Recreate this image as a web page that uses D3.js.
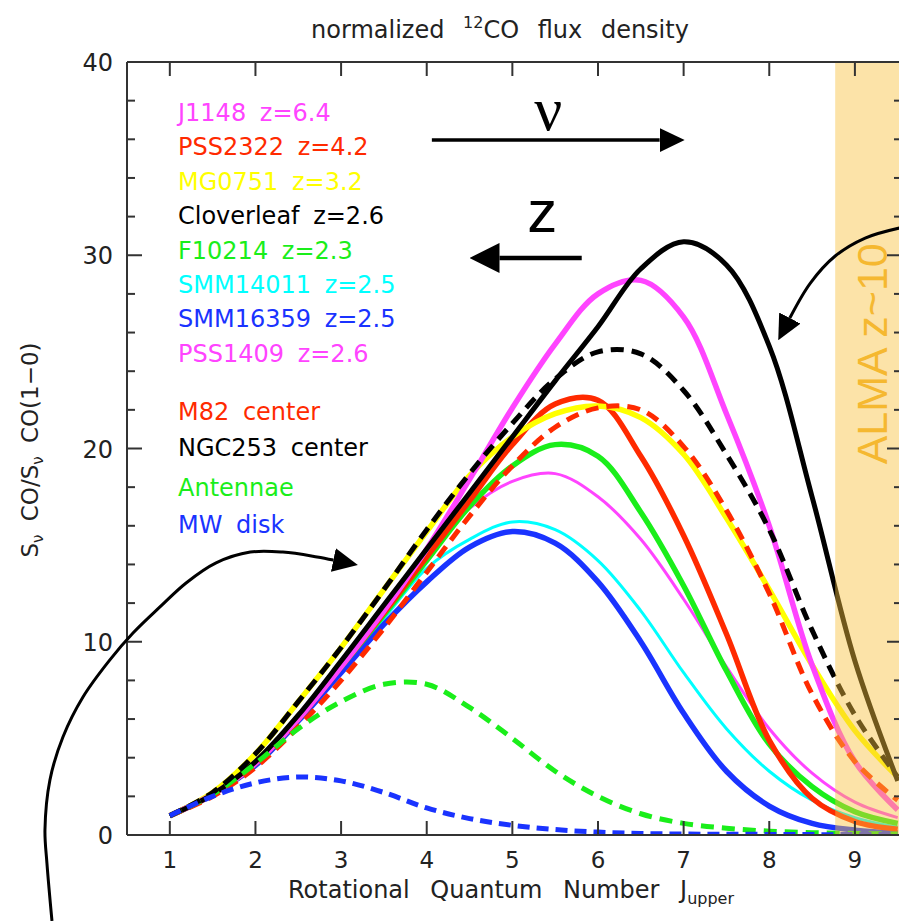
<!DOCTYPE html>
<html><head><meta charset="utf-8">
<script src="https://cdn.jsdelivr.net/npm/d3@7"></script>
<style>body{margin:0;background:#fff}svg{display:block}</style>
</head><body>
<script>
// ---------------- data ----------------
const jUpper = [1,1.5,2,2.5,3,3.5,4,4.5,5,5.5,6,6.5,7,7.5,8,8.5,9,9.5];
const cloverleaf = [1.0,2.1,3.8,6.2,9.0,11.9,14.8,17.7,20.6,23.5,26.3,29.3,30.7,29.5,25.3,17.5,9.0,2.8];
const j1148      = [1.0,2.1,3.7,6.0,8.7,11.6,14.8,18.4,22.1,25.4,28.0,28.7,26.8,21.8,16.0,8.8,3.8,1.3];
const ngc253     = [1.0,2.2,4.2,6.9,9.7,12.7,15.8,18.7,21.3,23.6,25.0,24.9,23.0,19.7,15.8,10.6,6.2,3.0];
const mg0751     = [1.0,2.2,4.2,6.9,9.7,12.7,15.7,18.6,20.6,21.8,22.2,21.6,19.7,16.4,12.7,8.8,5.4,3.0];
const pss2322    = [1.0,2.1,3.7,6.0,8.7,11.5,14.4,17.3,20.2,22.3,22.5,19.6,15.5,10.4,4.9,1.9,0.7,0.3];
const f10214     = [1.0,2.1,3.7,6.0,8.7,11.4,14.2,17.0,19.1,20.2,19.6,16.7,12.9,8.5,4.7,2.5,1.2,0.6];
const pss1409    = [1.0,2.1,3.7,6.0,8.6,11.4,14.5,16.9,18.3,18.7,17.5,15.3,12.2,8.7,5.5,3.2,1.7,0.9];
const smm14011   = [1.0,2.1,3.7,6.0,8.5,11.2,13.8,15.3,16.2,15.8,14.2,11.6,8.4,5.5,3.3,1.8,0.9,0.4];
const smm16359   = [1.0,2.1,3.6,5.9,8.4,10.9,13.1,14.9,15.7,15.1,13.1,10.0,6.3,3.3,1.5,0.6,0.25,0.1];
const m82        = [1.0,2.0,3.5,5.6,8.0,10.7,13.6,16.5,19.1,21.1,22.1,22.0,20.1,16.8,12.5,7.3,3.8,1.8];
const antennae   = [1.0,2.1,3.7,5.5,6.9,7.8,7.8,6.6,5.0,3.3,2.0,1.1,0.6,0.35,0.2,0.12,0.08,0.05];
const mwDisk     = [1.0,2.0,2.7,3.0,2.8,2.2,1.4,0.85,0.5,0.28,0.15,0.08,0.05,0.04,0.03,0.02,0.02,0.02];

const xTicks = [1,2,3,4,5,6,7,8,9];
const yTicks = [0,10,20,30,40];
const yMinorTicks = d3.range(0,41,2);

const legendLabels = ["J1148 z=6.4","PSS2322 z=4.2","MG0751 z=3.2","Cloverleaf z=2.6","F10214 z=2.3","SMM14011 z=2.5","SMM16359 z=2.5","PSS1409 z=2.6"];
const legendColors = ["#ff44ff","#ff2a00","#ffff00","#000000","#1aee1a","#00ffff","#1a33ff","#ff44ff"];
const localLabels = ["M82 center","NGC253 center","Antennae","MW disk"];
const localColors = ["#ff2a00","#000000","#1aee1a","#1a33ff"];

// annotation geometry in data units (J, S ratio)
const almaRange = [8.77, 9.6];
const nuArrow = [[4.06,35.96],[6.72,35.96]];
const zArrow  = [[5.81,29.86],[4.85,29.86]];
const topRightArrow = [[9.52,31.41],[9.12,30.89],[8.77,29.96],[8.48,28.56],[8.24,26.75]];
const leftArrow = [[-0.376,-4.45],[-0.435,-1.45],[-0.458,0.26],[-0.40,2.85],[-0.248,5.07],[-0.014,7.14],[0.30,9.06],[0.57,10.45],[0.885,11.80],[1.19,13.04],[1.54,14.08],[1.94,14.64],[2.32,14.64],[2.72,14.39],[2.91,14.23]];

// ---------------- layout ----------------
const W = 899, H = 921;
const svg = d3.select("body").append("svg").attr("width",W).attr("height",H);
const x = d3.scaleLinear().domain([0.5,9.55]).range([127,902]);
const y = d3.scaleLinear().domain([0,40]).range([835,62]);
const font = "'DejaVu Sans', sans-serif";

const defs = svg.append("defs");
function marker(id, len, half){
  defs.append("marker").attr("id",id).attr("markerUnits","userSpaceOnUse")
    .attr("viewBox",`0 ${-half} ${len} ${2*half}`).attr("refX",0).attr("refY",0)
    .attr("markerWidth",len).attr("markerHeight",2*half).attr("orient","auto")
    .append("path").attr("d",`M0,${-half}L${len},0L0,${half}Z`).attr("fill","#000");
}
marker("headA",25,12);
marker("headZ",30,15);
defs.append("clipPath").attr("id","plotclip").append("rect")
  .attr("x",x(0.5)).attr("y",y(40)).attr("width",x(9.55)-x(0.5)).attr("height",y(0)-y(40));

// ---------------- curves ----------------
const series = [
  {v:smm14011, c:"#00ffff", w:3},
  {v:pss1409,  c:"#ff44ff", w:3},
  {v:smm16359, c:"#1a33ff", w:5.5},
  {v:f10214,   c:"#1aee1a", w:5.5},
  {v:pss2322,  c:"#ff2a00", w:5.5},
  {v:mg0751,   c:"#ffff00", w:5.5},
  {v:j1148,    c:"#ff44ff", w:5.5},
  {v:cloverleaf,c:"#000000", w:5},
  {v:m82,      c:"#ff2a00", w:5, d:"13 8"},
  {v:antennae, c:"#1aee1a", w:5, d:"13 8"},
  {v:ngc253,   c:"#000000", w:5, d:"13 8"},
  {v:mwDisk,   c:"#1a33ff", w:5, d:"12 7"}
];
const line = d3.line().x(d=>x(d[0])).y(d=>y(d[1])).curve(d3.curveCatmullRom.alpha(0.5));
const gCurves = svg.append("g").attr("clip-path","url(#plotclip)");
series.forEach(s=>{
  gCurves.append("path").datum(jUpper.map((j,i)=>[j,s.v[i]]))
    .attr("d",line).attr("fill","none").attr("stroke",s.c).attr("stroke-width",s.w)
    .attr("stroke-dasharray",s.d||null).attr("stroke-linejoin","round");
});

// ALMA band over the curves
svg.append("rect").attr("x",x(almaRange[0])).attr("y",y(40))
  .attr("width",x(almaRange[1])-x(almaRange[0])).attr("height",y(0)-y(40))
  .attr("fill","#f9c03e").attr("fill-opacity",0.45);
svg.append("text").attr("transform",`translate(${x(9.37)},${y(24.9)}) rotate(-90)`)
  .attr("text-anchor","middle").attr("font-family","'Liberation Sans', Arial, sans-serif")
  .attr("font-size",43).attr("fill","#f5b830").text("ALMA z~10");

// ---------------- axes ----------------
const axisColor = "#333";
const gAx = svg.append("g").attr("stroke",axisColor).attr("stroke-width",2);
gAx.append("line").attr("x1",x(0.5)).attr("x2",x(9.55)).attr("y1",y(0)).attr("y2",y(0));
gAx.append("line").attr("x1",x(0.5)).attr("x2",x(9.55)).attr("y1",y(40)).attr("y2",y(40));
gAx.append("line").attr("x1",x(0.5)).attr("x2",x(0.5)).attr("y1",y(0)).attr("y2",y(40));
gAx.append("line").attr("x1",x(9.55)).attr("x2",x(9.55)).attr("y1",y(0)).attr("y2",y(40));
xTicks.forEach(t=>{
  gAx.append("line").attr("x1",x(t)).attr("x2",x(t)).attr("y1",y(0)).attr("y2",y(0)-14);
  gAx.append("line").attr("x1",x(t)).attr("x2",x(t)).attr("y1",y(40)).attr("y2",y(40)+14);
});
yMinorTicks.forEach(t=>{
  const len = (t%10===0)?15:8;
  gAx.append("line").attr("x1",x(0.5)).attr("x2",x(0.5)+len).attr("y1",y(t)).attr("y2",y(t));
  gAx.append("line").attr("x1",x(9.55)).attr("x2",x(9.55)-len).attr("y1",y(t)).attr("y2",y(t));
});
svg.append("g").selectAll("text").data(xTicks).join("text")
  .attr("x",d=>x(d)).attr("y",y(0)+33).attr("text-anchor","middle")
  .attr("font-family",font).attr("font-size",23).attr("fill","#222").text(d=>d);
svg.append("g").selectAll("text").data(yTicks).join("text")
  .attr("x",x(0.5)-14).attr("y",d=>y(d)+9).attr("text-anchor","end")
  .attr("font-family",font).attr("font-size",24).attr("fill","#222").text(d=>d);

// title
const title = svg.append("text").attr("x",500).attr("y",38).attr("text-anchor","middle")
  .attr("font-family",font).attr("font-size",24).attr("fill","#222").attr("word-spacing",11);
title.append("tspan").text("normalized ");
title.append("tspan").attr("font-size",16).attr("dy",-10).text("12");
title.append("tspan").attr("dy",10).text("CO flux density");

// x label
const xl = svg.append("text").attr("x",511).attr("y",898).attr("text-anchor","middle")
  .attr("font-family",font).attr("font-size",24).attr("fill","#222").attr("word-spacing",13);
xl.append("tspan").text("Rotational Quantum Number J");
xl.append("tspan").attr("font-size",16).attr("dy",6).text("upper");

// y label
const yl = svg.append("text").attr("transform",`translate(38,450) rotate(-90)`).attr("text-anchor","middle")
  .attr("font-family",font).attr("font-size",23).attr("fill","#222").attr("word-spacing",6);
yl.append("tspan").text("S");
yl.append("tspan").attr("font-size",15).attr("dy",5).text("ν");
yl.append("tspan").attr("dy",-5).text(" CO/S");
yl.append("tspan").attr("font-size",15).attr("dy",5).text("ν");
yl.append("tspan").attr("dy",-5).text(" CO(1−0)");

// legend
svg.append("g").selectAll("text").data(legendLabels).join("text")
  .attr("x",178).attr("y",(d,i)=>121+i*34.4).attr("font-family",font).attr("font-size",24)
  .attr("word-spacing",6).attr("fill",(d,i)=>legendColors[i]).text(d=>d);
svg.append("g").selectAll("text").data(localLabels).join("text")
  .attr("x",178).attr("y",(d,i)=>[420,456,496,533][i]).attr("font-family",font).attr("font-size",24)
  .attr("word-spacing",6).attr("fill",(d,i)=>localColors[i]).text(d=>d);

// arrows
const aline = d3.line().x(d=>x(d[0])).y(d=>y(d[1]));
svg.append("path").datum(nuArrow).attr("d",aline).attr("stroke","#000").attr("stroke-width",3.5)
  .attr("fill","none").attr("marker-end","url(#headA)");
svg.append("path").datum(zArrow).attr("d",aline).attr("stroke","#000").attr("stroke-width",4.5)
  .attr("fill","none").attr("marker-end","url(#headZ)");
const cline = d3.line().x(d=>x(d[0])).y(d=>y(d[1])).curve(d3.curveCatmullRom.alpha(0.5));
svg.append("path").datum(topRightArrow).attr("d",cline).attr("stroke","#000").attr("stroke-width",3)
  .attr("fill","none").attr("marker-end","url(#headA)");
svg.append("path").datum(leftArrow).attr("d",cline).attr("stroke","#000").attr("stroke-width",3)
  .attr("fill","none").attr("marker-end","url(#headA)");
svg.append("text").attr("x",x(5.42)).attr("y",y(36.5)).attr("text-anchor","middle")
  .attr("font-family","'Liberation Serif', serif").attr("font-size",62).text("ν");
svg.append("text").attr("x",x(5.35)).attr("y",y(31.2)).attr("text-anchor","middle")
  .attr("font-family","'Liberation Sans', Arial, sans-serif").attr("font-size",60).text("z");
</script>
</body></html>
